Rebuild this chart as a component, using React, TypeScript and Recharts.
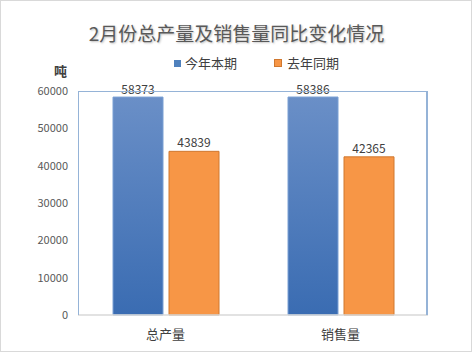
import React from 'react';
import {
  BarChart,
  Bar,
  XAxis,
  YAxis,
  LabelList,
} from 'recharts';

const categories = ['总产量', '销售量'];
const thisYear = [58373, 58386];
const lastYear = [43839, 42365];
const yTicks = [0, 10000, 20000, 30000, 40000, 50000, 60000];

const data = categories.map((name, i) => ({
  name,
  thisYear: thisYear[i],
  lastYear: lastYear[i],
}));

const FONT = "'Noto Sans CJK SC', 'Noto Sans', sans-serif";
const BORDER_BLUE = '#95b3d7';

// plot area in page pixels
const PLOT = { left: 78, top: 91, right: 428, bottom: 315 };

const App: React.FC = () => {
  return (
    <div
      style={{
        position: 'absolute',
        left: 0,
        top: 0,
        width: 473,
        height: 353,
        background: '#fff',
      }}
    >
      <div
        style={{
          position: 'absolute',
          left: 0,
          top: 0,
          width: 472,
          height: 352,
          boxSizing: 'border-box',
          border: '1.5px solid #d9d9d9',
        }}
      />
      <div
        style={{
          position: 'absolute',
          top: 19,
          left: 0,
          width: 473,
          textAlign: 'center',
          fontFamily: FONT,
          fontSize: 19,
          color: '#595959',
          textShadow: '1px 1px 2px rgba(0,0,0,0.25)',
        }}
      >
        2月份总产量及销售量同比变化情况
      </div>
      <div
        style={{
          position: 'absolute',
          top: 61,
          left: 54,
          fontFamily: FONT,
          fontSize: 13,
          fontWeight: 'bold',
          color: '#404040',
        }}
      >
        吨
      </div>
      {/* legend */}
      <div
        style={{
          position: 'absolute',
          top: 55,
          left: 174,
          display: 'flex',
          fontFamily: FONT,
          fontSize: 13,
          color: '#404040',
          lineHeight: '16px',
        }}
      >
        <span style={{ display: 'flex', alignItems: 'center', marginRight: 37 }}>
          <span style={{ width: 7, height: 7, background: '#4f81bd', marginRight: 4 }} />
          今年本期
        </span>
        <span style={{ display: 'flex', alignItems: 'center' }}>
          <span
            style={{
              width: 6,
              height: 6,
              background: '#f79646',
              border: '1px solid #d0782f',
              marginRight: 5,
            }}
          />
          去年同期
        </span>
      </div>
      <BarChart
        width={473}
        height={353}
        data={data}
        margin={{ top: 91, right: 45, left: 18, bottom: 8 }}
        barSize={50}
        barGap={6}
        style={{ position: 'absolute', left: 0, top: 0 }}
      >
        <defs>
          <linearGradient id="blueGrad" x1="0" y1="0" x2="0" y2="1">
            <stop offset="0%" stopColor="#6a8fc7" />
            <stop offset="100%" stopColor="#3a6cb2" />
          </linearGradient>
        </defs>
        <XAxis
          dataKey="name"
          height={30}
          tick={{ fill: '#404040', fontSize: 13, fontFamily: FONT }}
          axisLine={{ stroke: '#d9d9d9', strokeWidth: 1.5 }}
          tickLine={false}
          tickMargin={9}
        />
        <YAxis
          width={60}
          domain={[0, 60000]}
          ticks={yTicks}
          tick={{ fill: '#595959', fontSize: 11, fontFamily: FONT }}
          axisLine={false}
          tickLine={false}
          tickSize={0}
          tickMargin={10}
        />
        <Bar
          dataKey="thisYear"
          fill="url(#blueGrad)"
          stroke="#7aa0d4"
          strokeWidth={1}
          isAnimationActive={false}
        >
          <LabelList
            dataKey="thisYear"
            position="top"
            offset={3}
            style={{ fill: '#404040', fontSize: 12, fontFamily: FONT }}
          />
        </Bar>
        <Bar
          dataKey="lastYear"
          fill="#f79646"
          stroke="#d0782f"
          strokeWidth={1}
          isAnimationActive={false}
        >
          <LabelList
            dataKey="lastYear"
            position="top"
            offset={4}
            style={{ fill: '#404040', fontSize: 12, fontFamily: FONT }}
          />
        </Bar>
      </BarChart>
      {/* plot frame: left, top, right in blue */}
      <div
        style={{
          position: 'absolute',
          left: PLOT.left,
          top: PLOT.top,
          width: PLOT.right - PLOT.left,
          height: PLOT.bottom - PLOT.top,
          boxSizing: 'border-box',
          borderLeft: `1px solid ${BORDER_BLUE}`,
          borderTop: `1px solid ${BORDER_BLUE}`,
          borderRight: `2px solid ${BORDER_BLUE}`,
          pointerEvents: 'none',
        }}
      />
    </div>
  );
};

export default App;
